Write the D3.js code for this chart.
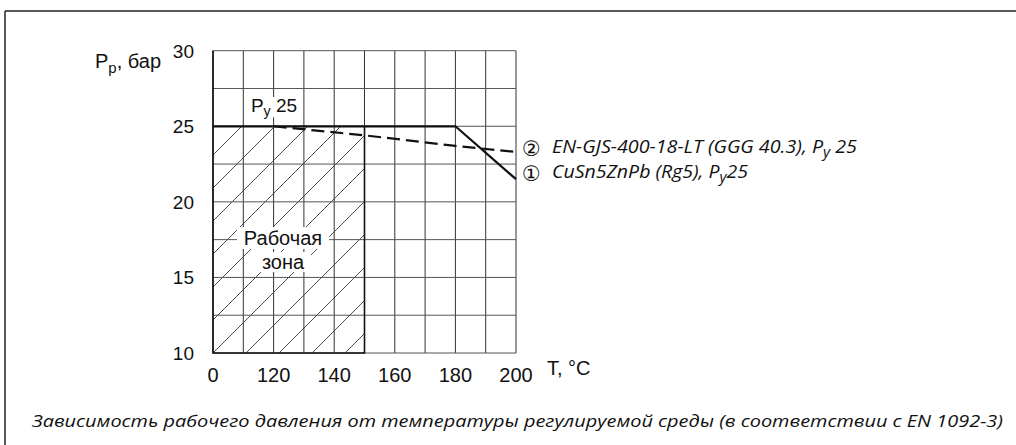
<!DOCTYPE html>
<html>
<head>
<meta charset="utf-8">
<script src="https://cdn.jsdelivr.net/npm/d3@7"></script>
<style>
  body { margin: 0; background: #fff; }
  text { font-family: "Liberation Sans", Arial, sans-serif; fill: #111; }
  .it { font-family: "Open Sans", sans-serif; font-style: italic; }
</style>
</head>
<body>
<script>
var width = 1016;
var height = 445;

// data
var tempTicks = [0, 120, 140, 160, 180, 200];
var tempGrid = [0, 110, 120, 130, 140, 150, 160, 170, 180, 190, 200];
var pressTicks = [10, 15, 20, 25, 30];
var pressGrid = [10, 12.5, 15, 17.5, 20, 22.5, 25, 27.5, 30];
var bronzeT = [0, 180, 200];       // ① CuSn5ZnPb (Rg5)
var bronzeP = [25, 25, 21.5];
var ironT = [120, 150, 180, 200];  // ② EN-GJS-400-18-LT
var ironP = [25, 24.4, 23.7, 23.3];
var workT = [0, 150];              // рабочая зона
var workP = [10, 25];

var svg = d3.select("body").append("svg")
  .attr("width", width)
  .attr("height", height);

// frame
svg.append("line").attr("x1", 5).attr("x2", width).attr("y1", 11).attr("y2", 11)
  .style("stroke", "#222").style("stroke-width", 1.5);
svg.append("line").attr("x1", 5).attr("x2", 5).attr("y1", 11).attr("y2", height)
  .style("stroke", "#222").style("stroke-width", 1.5);

// broken temperature axis: 0 .. 110 takes one cell
var x = d3.scaleLinear().domain([0, 110, 200]).range([213, 243.3, 516]);
var y = d3.scaleLinear().domain([10, 30]).range([353, 50.7]);

// hatch of working zone
svg.append("clipPath").attr("id", "zone")
  .append("rect")
  .attr("x", x(workT[0])).attr("y", y(workP[1]))
  .attr("width", x(workT[1]) - x(workT[0]))
  .attr("height", y(workP[0]) - y(workP[1]));

var hatch = svg.append("g").attr("clip-path", "url(#zone)");
var hx0 = x(workT[0]), hy0 = y(workP[0]);
for (var k = -10; k < 12; k++) {
  var bx = hx0 + k * 33;
  hatch.append("line")
    .attr("x1", bx).attr("y1", hy0)
    .attr("x2", bx + 260).attr("y2", hy0 - 260)
    .style("stroke", "#222").style("stroke-width", 0.8);
}

// grid
svg.selectAll(".vgrid")
  .data(tempGrid)
.enter().append("line")
  .attr("class", "vgrid")
  .attr("x1", function (d) { return x(d); })
  .attr("x2", function (d) { return x(d); })
  .attr("y1", y(30)).attr("y2", y(10))
  .style("stroke", "#333").style("stroke-width", 1);

svg.selectAll(".hgrid")
  .data(pressGrid)
.enter().append("line")
  .attr("class", "hgrid")
  .attr("x1", x(0)).attr("x2", x(200))
  .attr("y1", function (d) { return y(d); })
  .attr("y2", function (d) { return y(d); })
  .style("stroke", "#555").style("stroke-width", 1);

// zone border
svg.append("path")
  .attr("d", d3.line()([[x(workT[0]), y(30)], [x(workT[0]), y(workP[0])],
                        [x(workT[1]), y(workP[0])], [x(workT[1]), y(workP[1])]]))
  .style("fill", "none").style("stroke", "#111").style("stroke-width", 1.6);

// text with white box that masks grid
function label(gx, gy, parts, size, padx, pady) {
  var g = svg.append("g");
  var t = g.append("text")
    .attr("x", gx).attr("y", gy)
    .style("font-size", size + "px")
    .attr("text-anchor", "middle");
  parts.forEach(function (p) {
    var s = t.append("tspan").text(p.t);
    if (p.sub) s.attr("baseline-shift", "-30%").style("font-size", (size * 0.75) + "px");
  });
  var b = t.node().getBBox();
  g.insert("rect", "text")
    .attr("x", b.x - padx).attr("y", b.y + pady)
    .attr("width", b.width + padx * 2).attr("height", b.height - pady * 2)
    .style("fill", "#fff");
  return g;
}
label(283, 245, [{t: "Рабочая"}], 20, 7, 0);
label(283, 269, [{t: "зона"}], 20, 6, 1);

// lines
var line = d3.line()
  .x(function (d) { return x(d[0]); })
  .y(function (d) { return y(d[1]); });

svg.append("path")
  .attr("d", line(d3.zip(ironT, ironP)))
  .style("fill", "none").style("stroke", "#111")
  .style("stroke-width", 2.2).style("stroke-dasharray", "13,6");

svg.append("path")
  .attr("d", line(d3.zip(bronzeT, bronzeP)))
  .style("fill", "none").style("stroke", "#111")
  .style("stroke-width", 2.2);

label(274, 112, [{t: "P"}, {t: "y", sub: true}, {t: " 25"}], 19, 2, 2);

// axes labels
svg.selectAll(".ytick")
  .data(pressTicks)
.enter().append("text")
  .attr("class", "ytick")
  .attr("x", 194)
  .attr("y", function (d) { return y(d); })
  .attr("dy", "0.36em")
  .attr("text-anchor", "end")
  .style("font-size", "19px")
  .text(function (d) { return d; });

svg.selectAll(".xtick")
  .data(tempTicks)
.enter().append("text")
  .attr("class", "xtick")
  .attr("x", function (d) { return x(d); })
  .attr("y", 382)
  .attr("text-anchor", "middle")
  .style("font-size", "20px")
  .text(function (d) { return d; });

var yl = svg.append("text").attr("x", 95).attr("y", 68).style("font-size", "20px");
yl.append("tspan").text("P");
yl.append("tspan").attr("baseline-shift", "-30%").style("font-size", "15px").text("p");
yl.append("tspan").text(", бар");

svg.append("text").attr("x", 547).attr("y", 375).style("font-size", "20px").text("T, °C");

// legend
var legend = [
  {n: "②", name: "EN-GJS-400-18-LT (GGG 40.3), P", tail: " 25", yy: 153, w: 305},
  {n: "①", name: "CuSn5ZnPb (Rg5), P", tail: "25", yy: 178, w: 196}
];
legend.forEach(function (d) {
  svg.append("text")
    .attr("x", 531.5).attr("y", d.yy + 3)
    .attr("text-anchor", "middle")
    .style("font-family", "DejaVu Sans")
    .style("font-size", "21px")
    .text(d.n);
  var t = svg.append("text").attr("class", "it")
    .attr("x", 552).attr("y", d.yy)
    .style("font-size", "18px");
  t.append("tspan").text(d.name);
  t.append("tspan").attr("baseline-shift", "-30%").style("font-size", "14px").text("y");
  t.append("tspan").attr("baseline-shift", "0").text(d.tail);
  t.attr("textLength", d.w).attr("lengthAdjust", "spacingAndGlyphs");
});

svg.append("text").attr("class", "it")
  .attr("x", 32).attr("y", 427)
  .style("font-size", "17px")
  .attr("textLength", 971).attr("lengthAdjust", "spacingAndGlyphs")
  .text("Зависимость рабочего давления от температуры регулируемой среды (в соответствии с EN 1092-3)");
</script>
</body>
</html>
